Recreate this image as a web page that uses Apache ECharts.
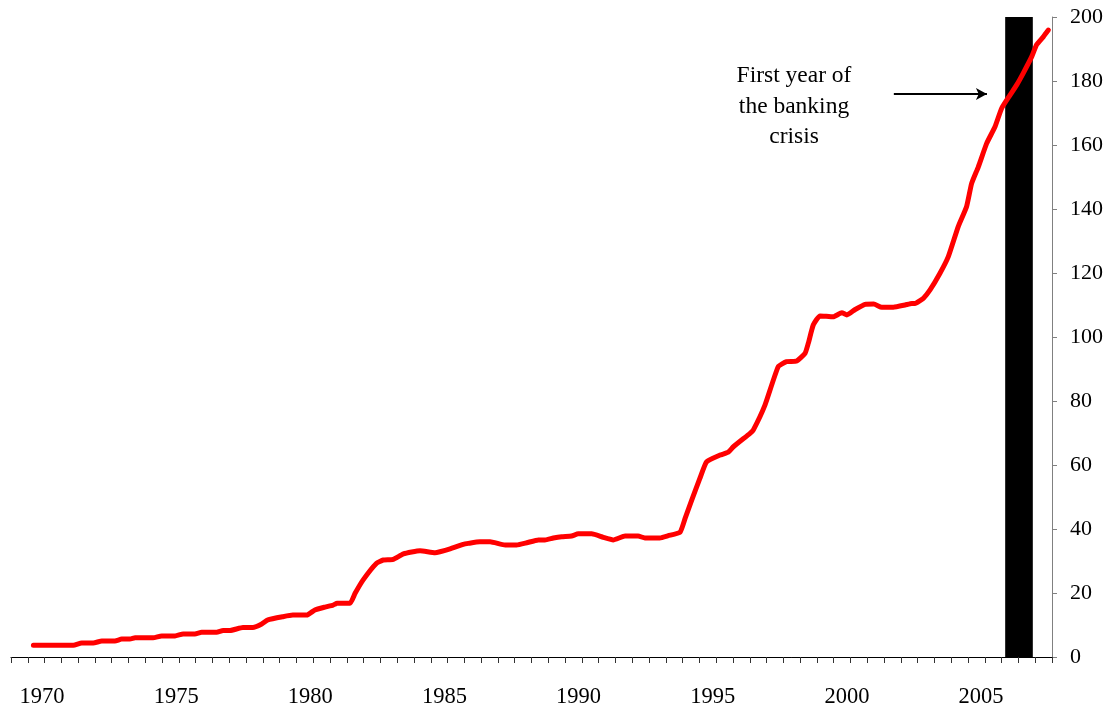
<!DOCTYPE html>
<html>
<head>
<meta charset="utf-8">
<script src="https://cdn.jsdelivr.net/npm/echarts@6/dist/echarts.min.js"></script>
<style>
html,body{margin:0;padding:0;background:#fff;}
#c{width:1111px;height:713px;}
</style>
</head>
<body>
<div id="c"></div>
<script>
// ---- data ----
const years = [1969.68,1971.17,1971.48,1971.91,1972.23,1972.72,1972.97,1973.28,1973.47,1974.14,1974.46,1974.96,1975.26,1975.70,1975.95,1976.51,1976.75,1977.01,1977.49,1977.86,1978.19,1978.42,1978.98,1979.35,1979.87,1980.17,1980.55,1980.85,1981.00,1981.48,1981.67,1981.97,1982.47,1982.72,1983.09,1983.47,1984.09,1984.65,1984.83,1985.21,1985.70,1985.89,1986.32,1986.70,1987.26,1987.69,1988.07,1988.50,1988.75,1989.06,1989.37,1989.74,1989.99,1990.49,1990.92,1991.29,1991.73,1992.22,1992.47,1993.03,1993.34,1993.78,1993.97,1994.22,1994.52,1994.77,1995.27,1995.58,1995.77,1996.39,1996.51,1996.95,1997.44,1997.75,1998.13,1998.44,1998.56,1998.75,1999.00,1999.49,1999.81,2000.00,2000.31,2000.68,2001.00,2001.30,2001.73,2002.17,2002.42,2002.54,2002.85,2003.10,2003.47,2003.78,2004.15,2004.46,2004.65,2004.90,2005.21,2005.52,2005.77,2006.08,2006.33,2006.57,2006.89,2007.07,2007.32,2007.51];
const values = [3.7,3.7,4.4,4.4,5.0,5.0,5.6,5.6,6.0,6.0,6.6,6.6,7.2,7.2,7.7,7.7,8.3,8.3,9.2,9.2,10.3,11.6,12.6,13.1,13.1,14.7,15.6,16.2,16.8,16.8,19.9,24.1,29.3,30.3,30.5,32.2,33.2,32.6,32.9,33.8,35.2,35.5,36.0,36.0,35.0,35.0,35.7,36.6,36.6,37.2,37.6,37.8,38.5,38.5,37.4,36.6,37.8,37.8,37.2,37.2,37.9,39.0,43.3,49.1,55.8,61.0,63.1,64.0,65.7,69.9,70.9,78.8,90.7,92.3,92.5,94.9,98.0,103.8,106.6,106.3,107.6,106.9,108.6,110.2,110.3,109.3,109.3,110.0,110.5,110.5,112.1,114.7,119.9,125.1,134.5,140.7,148.0,153.2,160.5,165.7,171.5,175.6,178.8,182.4,187.6,191.3,193.8,195.9];
const yearLabels = [1970,1975,1980,1985,1990,1995,2000,2005];
const crisisYear = [2005.9, 2006.93];
const annotationText = ['First year of', 'the banking', 'crisis'];
const arrowFrom = [2001.75, 175.9];
const arrowTo = [2005.22, 175.9];
const xRange = [1968.845, 2007.645];
const yRange = [0, 200];
const tickCount = 62;

const FONT = "'Liberation Serif','Times New Roman',serif";
const chart = echarts.init(document.getElementById('c'), null, {renderer:'canvas'});
chart.setOption({
  animation:false,
  backgroundColor:'#fff',
  grid:{left:11,right:59,top:17,bottom:56,containLabel:false},
  xAxis:[{
    type:'value', min:xRange[0], max:xRange[1], position:'bottom',
    axisLine:{show:true, onZero:false, lineStyle:{color:'#000', width:1}},
    axisTick:{show:false},
    splitLine:{show:false},
    axisLabel:{customValues:yearLabels, fontFamily:FONT, fontSize:22.5, color:'#000', margin:29,
      formatter:v=>String(Math.round(v))}
  },{
    type:'value', min:0, max:tickCount, interval:1, position:'bottom',
    axisLine:{show:false, onZero:false},
    axisTick:{show:true, length:6, lineStyle:{color:'#333', width:1}},
    axisLabel:{show:false},
    splitLine:{show:false}
  }],
  yAxis:{
    type:'value', min:yRange[0], max:yRange[1], interval:20, position:'right',
    axisLine:{show:true, onZero:false, lineStyle:{color:'#808080', width:1}},
    axisTick:{show:true, length:5, lineStyle:{color:'#808080'}},
    splitLine:{show:false},
    axisLabel:{fontFamily:FONT, fontSize:22, color:'#000', margin:18}
  },
  series:[{
    type:'line', xAxisIndex:0,
    data: years.map((y,i)=>[y, values[i]]),
    showSymbol:false, symbol:'none',
    smooth:0.15,
    lineStyle:{color:'#ff0000', width:5, cap:'round', join:'round'},
    z:5,
    markArea:{
      silent:true,
      itemStyle:{color:'#000', opacity:1},
      data:[[{xAxis:crisisYear[0]},{xAxis:crisisYear[1]}]]
    },
    markLine:{
      silent:true,
      symbol:['none','arrow'],
      symbolSize:[9,11],
      label:{show:false},
      lineStyle:{color:'#000', width:2, type:'solid'},
      data:[[{coord:arrowFrom},{coord:arrowTo}]]
    }
  }],
  graphic:[{
    type:'text', x:794, y:61,
    style:{text:annotationText.join('\n'), fontFamily:FONT, fontSize:23.5, lineHeight:30.5,
      fill:'#000', align:'center', verticalAlign:'top'}
  }]
});
</script>
</body>
</html>
